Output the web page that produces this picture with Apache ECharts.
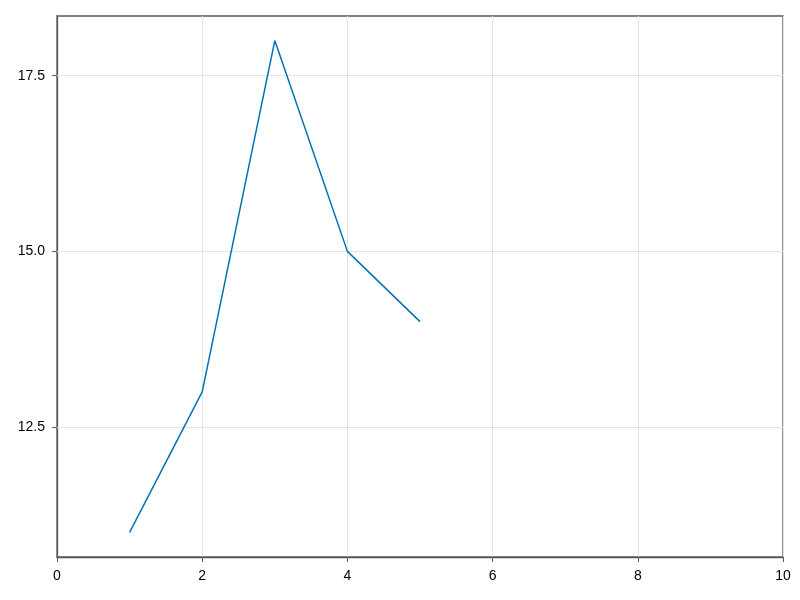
<!DOCTYPE html>
<html><head><meta charset="utf-8">
<script src="https://cdn.jsdelivr.net/npm/echarts@6/dist/echarts.min.js"></script>
<style>html,body{margin:0;padding:0;background:#fff}#c{width:800px;height:600px}</style>
</head><body><div id="c"></div>
<script>
const xValues = [1, 2, 3, 4, 5];
const yValues = [11, 13, 18, 15, 14];
const yTicks = [12.5, 15.0, 17.5];
const xRange = [0, 10];
const yRange = [10.65, 18.35];

const chart = echarts.init(document.getElementById('c'), null, {renderer: 'canvas'});
const font = {fontFamily: 'Liberation Sans, Arial, sans-serif', fontSize: 14, color: '#000'};
chart.setOption({
  animation: false,
  grid: {left: 57, right: 17, top: 16, bottom: 43, show: true, borderColor: '#5a5a5a', borderWidth: 1.3, containLabel: false},
  xAxis: {
    type: 'value', min: xRange[0], max: xRange[1], interval: 2,
    axisLine: {show: true, lineStyle: {color: '#5a5a5a', width: 1.3}},
    axisTick: {show: true, inside: false, length: 5, lineStyle: {color: '#5a5a5a', width: 1}},
    axisLabel: Object.assign({margin: 12}, font),
    splitLine: {show: true, lineStyle: {color: '#e3e3e3', width: 1}}
  },
  yAxis: {
    type: 'value', min: yRange[0], max: yRange[1],
    axisLine: {show: true, lineStyle: {color: '#5a5a5a', width: 1.3}},
    axisTick: {show: true, inside: false, length: 5, customValues: yTicks, lineStyle: {color: '#5a5a5a', width: 1}},
    axisLabel: Object.assign({margin: 12, customValues: yTicks, formatter: v => v.toFixed(1)}, font),
    splitLine: {show: false}
  },
  series: [{
    type: 'line', data: [], z: 1,
    markLine: {
      silent: true, symbol: 'none', label: {show: false}, animation: false,
      lineStyle: {color: '#e3e3e3', width: 1, type: 'solid'},
      data: yTicks.map(v => ({yAxis: v}))
    }
  }, {
    type: 'line', data: xValues.map((x, i) => [x, yValues[i]]),
    showSymbol: false, symbol: 'none', z: 5,
    lineStyle: {color: '#0072b2', width: 1.5}
  }]
});
</script></body></html>
